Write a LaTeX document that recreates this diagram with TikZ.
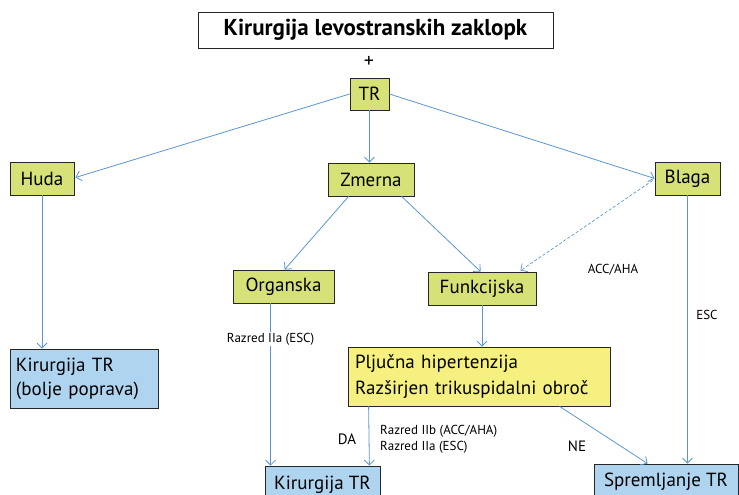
\documentclass[tikz,border=0pt]{standalone}
\usepackage{fontspec}
\setmainfont{PT Sans}
\usetikzlibrary{arrows.meta,calc}
\definecolor{grn}{RGB}{214,225,120}
\definecolor{blu}{RGB}{174,212,240}
\definecolor{ylw}{RGB}{246,240,128}
\definecolor{arrc}{RGB}{91,150,212}
\tikzset{
  box/.style={draw=black!85, line width=0.8pt, inner sep=0pt, font=\fontsize{19}{26}\selectfont},
  gbox/.style={box, fill=grn},
  bbox/.style={box, fill=blu},
  arr/.style={draw=arrc, line width=0.8pt, -{Straight Barb[length=5pt,width=10pt]}},
  lbl/.style={font=\fontsize{13}{16}\selectfont, inner sep=1pt},
  big/.style={font=\fontsize{15}{18}\selectfont, inner sep=0pt},
}
\begin{document}
\begin{tikzpicture}[x=1pt,y=-1pt]
\useasboundingbox (0,0) rectangle (739,495);
\clip (0,0) rectangle (739,495);
\node[box, fill=white, minimum width=355pt, minimum height=36pt, font=\fontsize{23}{28}\selectfont\bfseries] (title) at (375.5,30) {Kirurgija levostranskih zaklopk};
\node[font=\fontsize{20}{22}\selectfont, inner sep=0pt] (plus) at (369,62) {+};
\node[gbox, minimum width=39pt, minimum height=32pt] (TR) at (369.5,94) {TR};
\node[gbox, minimum width=64pt, minimum height=33pt] (huda) at (42,178.5) {Huda};
\node[gbox, minimum width=86pt, minimum height=33pt] (zmerna) at (371,179.5) {Zmerna};
\node[gbox, minimum width=65pt, minimum height=33pt] (blaga) at (687.5,178.5) {Blaga};
\node[gbox, minimum width=101pt, minimum height=33pt] (organ) at (283.5,286.5) {Organska};
\node[gbox, minimum width=108pt, minimum height=33pt] (funk) at (482,288.5) {Funkcijska};
\node[box, fill=ylw, minimum width=262pt, minimum height=59pt, text width=248pt, align=left] (pljuc) at (479,376.5) {Pljučna hipertenzija\\Razširjen trikuspidalni obroč};
\node[bbox, minimum width=148pt, minimum height=59pt, text width=136pt, align=left, font=\fontsize{19}{24}\selectfont] (kirA) at (84,378.5) {Kirurgija TR\\(bolje poprava)};
\node[bbox, minimum width=115pt, minimum height=38pt] (kirB) at (322.5,485) {Kirurgija TR};
\node[bbox, minimum width=144pt, minimum height=36pt] (sprem) at (666,482) {Spremljanje TR};
% connectors
\draw[arr] (TR.west) -- ($(huda.east)+(1,-1)$);
\draw[arr] (TR.south) -- (TR.south |- zmerna.north);
\draw[arr] (TR.east) -- (blaga.west);
\draw[arr] (huda.south) -- (huda.south |- kirA.north);
\draw[arr] ($(zmerna.south west)+(21,0)$) -- ($(organ.north west)+(52,0)$);
\draw[arr] ($(zmerna.south west)+(74,0)$) -- ($(funk.north west)+(53,0)$);
\draw[arr, dash pattern=on 3pt off 2pt, line width=0.7pt] ($(blaga.west)+(-2,2)$) -- ($(funk.north east)+(-16,-1)$);
\node[lbl] (acc) at (613,270) {ACC/AHA};
\draw[arr] (blaga.south) -- (blaga.south |- sprem.north);
\node[lbl] (esc) at (707,315) {ESC};
\draw[arr] (funk.south) -- (funk.south |- pljuc.north);
\draw[arr] ($(organ.south west)+(38,0)$) -- node[lbl, fill=white, pos=0.22] (razA) {Razred IIa (ESC)} ($(kirB.north west)+(6,0)$);
\draw[arr] ($(pljuc.south west)+(21,0)$) -- ($(kirB.north east)+(-11,0)$);
\node[big] (da) at (347,439) {DA};
\node[lbl, anchor=west, align=left] (razB) at (379,439) {Razred IIb (ACC/AHA)\\Razred IIa (ESC)};
\draw[arr] ($(pljuc.south west)+(212,0)$) -- ($(sprem.north west)+(54,0)$);
\node[big] (ne) at (577,446) {NE};
\end{tikzpicture}
\end{document}
